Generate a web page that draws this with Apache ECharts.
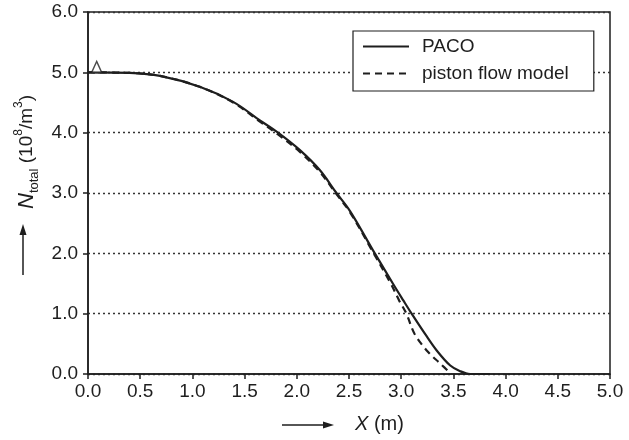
<!DOCTYPE html>
<html>
<head>
<meta charset="utf-8">
<script src="https://cdn.jsdelivr.net/npm/echarts@6/dist/echarts.min.js"></script>
<style>
  html, body { margin: 0; padding: 0; background: #fff; }
  #chart { width: 629px; height: 440px; }
</style>
</head>
<body>
<div id="chart"></div>
<script>
// Total concentration along the column: PACO simulation vs. piston flow model
const seriesNames = ['PACO', 'piston flow model'];

const pacoX = [0, 0.40, 0.69, 1.07, 1.39, 1.65, 1.82, 2.03, 2.22, 2.38, 2.51, 2.73, 2.92, 3.02, 3.10, 3.23, 3.34, 3.47, 3.56, 3.66, 3.85];
const pacoN = [5.00, 4.99, 4.94, 4.76, 4.51, 4.20, 4.00, 3.71, 3.38, 3.00, 2.70, 2.05, 1.50, 1.22, 1.00, 0.66, 0.39, 0.14, 0.05, 0.00, 0.00];

const pistonX = [0, 0.40, 0.69, 1.07, 1.39, 1.65, 1.82, 2.03, 2.22, 2.38, 2.51, 2.72, 2.90, 2.98, 3.05, 3.13, 3.26, 3.37, 3.48];
const pistonN = [5.00, 4.99, 4.94, 4.76, 4.50, 4.18, 3.97, 3.68, 3.35, 2.98, 2.68, 2.05, 1.50, 1.22, 1.00, 0.66, 0.36, 0.18, 0.00];

// small open triangle sitting on the inlet value
const inletMarker = [[0.083, 5.09]];

const FONT = '"Liberation Sans", Arial, Helvetica, sans-serif';
const INK = '#1e1e1e';
const zip = (xs, ys) => xs.map((x, i) => [x, ys[i]]);

const chart = echarts.init(document.getElementById('chart'), null, { renderer: 'canvas' });

chart.setOption({
  animation: false,
  backgroundColor: '#fff',
  grid: {
    left: 88, right: 19, top: 12, bottom: 66,
    show: true, borderColor: INK, borderWidth: 1.5, backgroundColor: 'transparent'
  },
  xAxis: {
    type: 'value', min: 0, max: 5, interval: 0.5,
    axisLine: { show: true, onZero: false, lineStyle: { color: INK, width: 1.5 } },
    axisTick: { show: true, inside: false, length: 5, lineStyle: { color: INK, width: 1.5 } },
    axisLabel: { color: INK, fontSize: 19, fontFamily: FONT, margin: 8, formatter: v => v.toFixed(1) },
    splitLine: { show: false }
  },
  yAxis: {
    type: 'value', min: 0, max: 6, interval: 1,
    axisLine: { show: true, onZero: false, lineStyle: { color: INK, width: 1.5 } },
    axisTick: { show: true, inside: false, length: 5, lineStyle: { color: INK, width: 1.5 } },
    axisLabel: { color: INK, fontSize: 19, fontFamily: FONT, margin: 10, formatter: v => v.toFixed(1) },
    splitLine: { show: true, lineStyle: { color: '#333', type: [2, 3], width: 1.4 } }
  },
  legend: {
    data: seriesNames,
    orient: 'vertical',
    left: 353, top: 31,
    padding: [6, 25, 8, 9],
    itemGap: 8,
    itemWidth: 46, itemHeight: 14,
    borderColor: INK, borderWidth: 1.2, borderRadius: 0,
    backgroundColor: '#fff',
    itemStyle: { opacity: 0 },
    textStyle: { fontSize: 19, fontFamily: FONT, color: INK, padding: [0, 0, 0, 8] }
  },
  series: [
    {
      name: seriesNames[0], type: 'line', data: zip(pacoX, pacoN),
      smooth: 0.35, symbol: 'none', showSymbol: false,
      lineStyle: { color: INK, width: 2.2 }, itemStyle: { color: INK }, z: 3
    },
    {
      name: seriesNames[1], type: 'line', data: zip(pistonX, pistonN),
      smooth: 0.35, symbol: 'none', showSymbol: false,
      lineStyle: { color: INK, width: 2.2, type: [7, 5] }, itemStyle: { color: INK }, z: 2
    },
    {
      name: 'inlet', type: 'scatter', data: inletMarker,
      symbol: 'triangle', symbolSize: [10, 11],
      itemStyle: { color: '#fff', borderColor: INK, borderWidth: 1.5 }, z: 4
    }
  ],
  graphic: [
    // vertical arrow beside the y-axis title
    { type: 'line', shape: { x1: 23, y1: 275, x2: 23, y2: 233 }, style: { stroke: INK, lineWidth: 1.5 } },
    { type: 'polygon', shape: { points: [[23, 224], [19.5, 235], [26.5, 235]] }, style: { fill: INK } },
    // horizontal arrow before the x-axis title
    { type: 'line', shape: { x1: 282, y1: 425, x2: 325, y2: 425 }, style: { stroke: INK, lineWidth: 1.5 } },
    { type: 'polygon', shape: { points: [[334, 425], [323, 421.5], [323, 428.5]] }, style: { fill: INK } },
    {
      type: 'text', x: 355, y: 424,
      style: {
        text: '{i|X}{t| (m)}',
        verticalAlign: 'middle',
        rich: {
          i: { fontSize: 20, fontStyle: 'italic', fontFamily: FONT, fill: INK },
          t: { fontSize: 20, fontFamily: FONT, fill: INK }
        }
      }
    },
    {
      type: 'text', x: 27, y: 152, rotation: Math.PI / 2,
      style: {
        text: '{n|N}{sub|total}{t| (10}{sup|8}{t|/m}{sup|3}{t|)}',
        align: 'center', verticalAlign: 'middle',
        rich: {
          n: { fontSize: 22, fontStyle: 'italic', fontFamily: FONT, fill: INK, lineHeight: 28, verticalAlign: 'middle' },
          sub: { fontSize: 13, fontFamily: FONT, fill: INK, lineHeight: 10, verticalAlign: 'bottom' },
          t: { fontSize: 19, fontFamily: FONT, fill: INK, lineHeight: 28, verticalAlign: 'middle' },
          sup: { fontSize: 12, fontFamily: FONT, fill: INK, lineHeight: 12, verticalAlign: 'top' }
        }
      }
    }
  ]
});
</script>
</body>
</html>
